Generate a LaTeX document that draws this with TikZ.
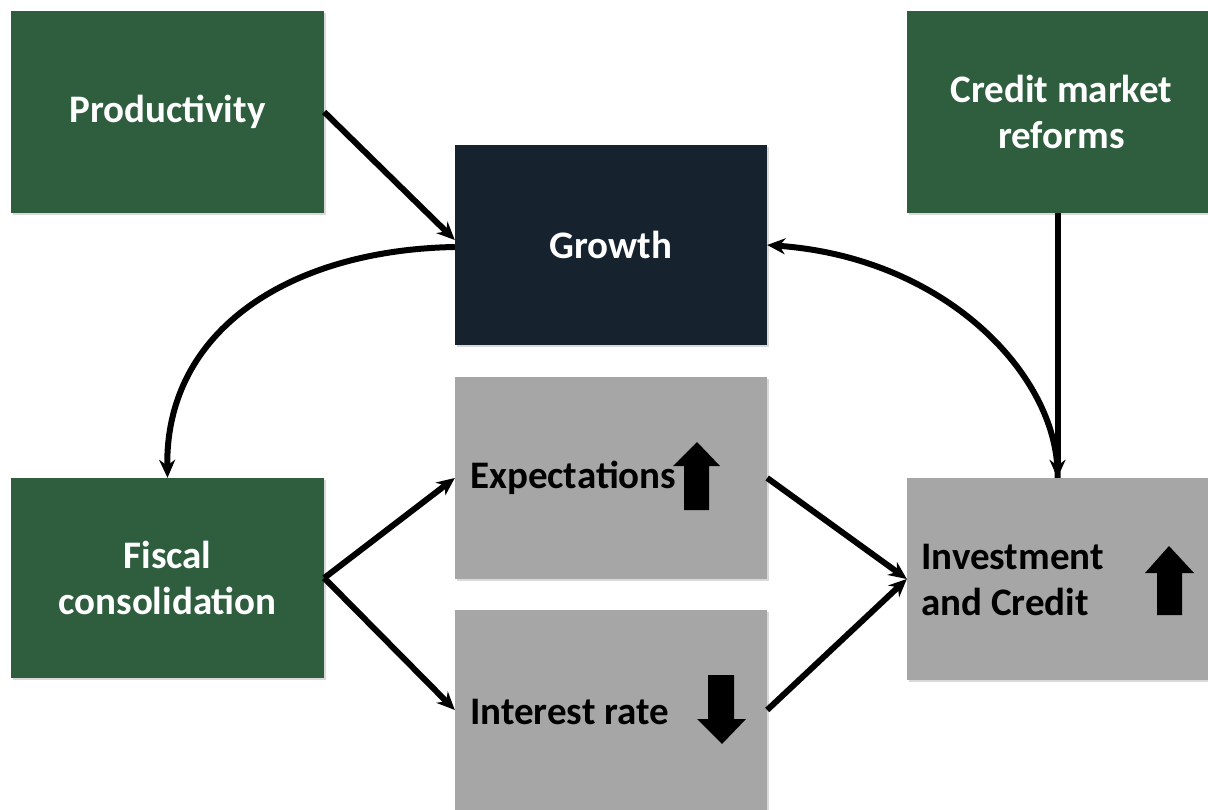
\documentclass[tikz,border=0pt]{standalone}
\usepackage{fontspec}
\setmainfont{Carlito}
\usetikzlibrary{arrows.meta,shadows}
\definecolor{boxgreen}{RGB}{47,94,63}
\definecolor{boxnavy}{RGB}{22,35,47}
\definecolor{boxgray}{RGB}{166,166,166}
\tikzset{
  box/.style={rectangle, inner sep=0pt, font=\fontsize{39}{46}\selectfont\bfseries, align=center,
    drop shadow={shadow xshift=2pt, shadow yshift=-2pt, opacity=0.3}},
  greenbox/.style={box, fill=boxgreen, text=white},
  navybox/.style={box, fill=boxnavy, text=white},
  graybox/.style={box, fill=boxgray, text=black},
  lbl/.style={inner sep=0pt, font=\fontsize{39}{46}\selectfont\bfseries, align=left, text=black},
  conn/.style={line width=6pt, -{Stealth[length=18pt,width=16pt]}},
  blockarrow/.style={fill=black, draw=none}
}
\begin{document}
\begin{tikzpicture}[x=1pt,y=-1pt]
\useasboundingbox (0,0) rectangle (1208,810);
% boxes
\node[greenbox, minimum width=313pt, minimum height=202pt] (prod) at (167.5,112) {Productivity};
\node[navybox, minimum width=312pt, minimum height=200pt] (growth) at (611,245) {Growth};
\node[greenbox, minimum width=301pt, minimum height=202pt] (credit) at (1057.5,112) {\hspace*{8pt}Credit market\\\hspace*{8pt}reforms};
\node[greenbox, minimum width=313pt, minimum height=200pt] (fiscal) at (167.5,578) {Fiscal\\consolidation};
\node[graybox, minimum width=312pt, minimum height=202pt] (expect) at (611,478) {};
\node[graybox, minimum width=312pt, minimum height=200pt] (interest) at (611,710) {};
\node[graybox, minimum width=301pt, minimum height=202pt] (invest) at (1057.5,579) {};
% labels inside gray boxes
\node[lbl, anchor=west] (expectlbl) at (470,478) {Expectations};
\node[lbl, anchor=west] (interestlbl) at (470,712) {Interest rate};
\node[lbl, anchor=west] (investlbl) at (921,580) {Investment\\and Credit};
% block arrows
\fill[blockarrow] (697,442) -- (720,466) -- (709,466) -- (709,510) -- (684,510) -- (684,466) -- (673,466) -- cycle;
\fill[blockarrow] (708,675) -- (734,675) -- (734,719) -- (746,719) -- (722,744) -- (697,719) -- (708,719) -- cycle;
\fill[blockarrow] (1169,546) -- (1194,573) -- (1182,573) -- (1182,615) -- (1157,615) -- (1157,573) -- (1145,573) -- cycle;
% connectors
\draw[conn] (prod.east) -- ([yshift=5pt]growth.west);
\draw[conn] ([yshift=-2pt]growth.west) .. controls (290,250) and (165,330) .. (fiscal.north);
\draw[conn] (invest.north) .. controls (1060,380) and (950,258) .. (growth.east);
\draw[conn] (credit.south) -- (invest.north);
\draw[conn] (fiscal.east) -- (expect.west);
\draw[conn] (fiscal.east) -- (interest.west);
\draw[conn] (expect.east) -- (invest.west);
\draw[conn] (interest.east) -- (invest.west);
\end{tikzpicture}
\end{document}
